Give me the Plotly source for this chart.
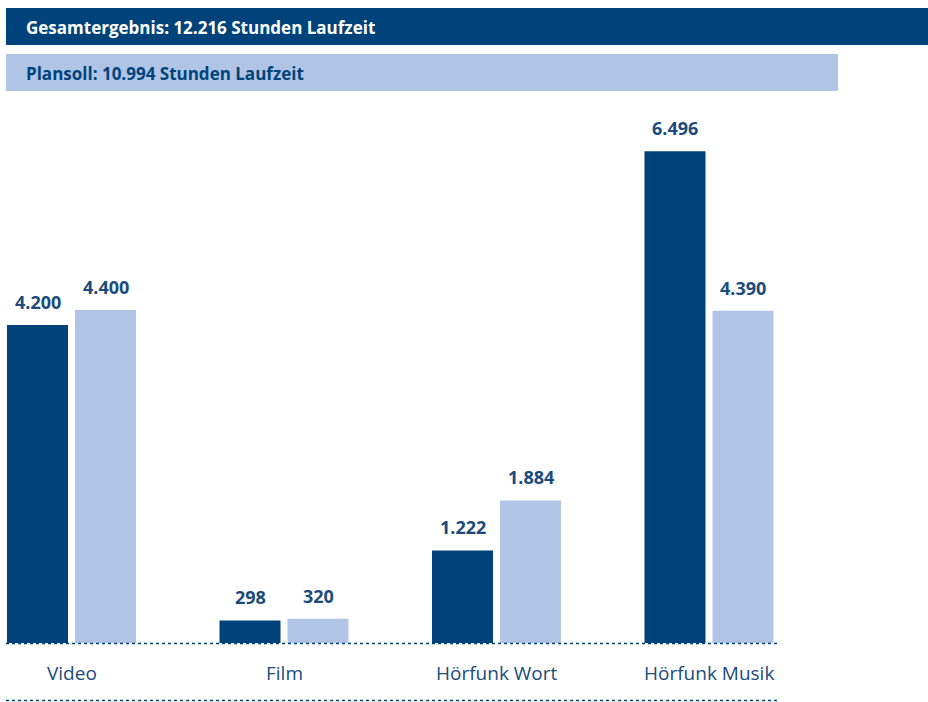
import plotly.graph_objects as go

categories = ["Video", "Film", "Hörfunk Wort", "Hörfunk Musik"]
ergebnis = [4200, 298, 1222, 6496]
plansoll = [4400, 320, 1884, 4390]
ergebnis_labels = ["4.200", "298", "1.222", "6.496"]
plansoll_labels = ["4.400", "320", "1.884", "4.390"]
header_total = "Gesamtergebnis: 12.216 Stunden Laufzeit"
header_plan = "Plansoll: 10.994 Stunden Laufzeit"

DARK = "#00437a"
LIGHT = "#b0c5e6"
TEXT = "#1b4b7c"
FONT = "Open Sans"

W, H = 928, 702
T, B = 100, 59
PH = H - T - B

def py(p):
    return (H - B - p) / PH

xs = list(range(len(categories)))
fig = go.Figure()
fig.add_bar(x=xs, y=ergebnis, marker_color=DARK, marker_line_width=0, name="Ergebnis")
fig.add_bar(x=xs, y=plansoll, marker_color=LIGHT, marker_line_width=0, name="Plansoll")

off = 68 / 2 / 212.5
ann = []
for i, c in enumerate(categories):
    ann.append(dict(x=i - off, y=ergebnis[i], text=ergebnis_labels[i], showarrow=False,
                    yanchor="bottom", yshift=9, font=dict(family=FONT, size=18, color=TEXT, weight="bold")))
    ann.append(dict(x=i + off, y=plansoll[i], text=plansoll_labels[i], showarrow=False,
                    yanchor="bottom", yshift=9, font=dict(family=FONT, size=18, color=TEXT, weight="bold")))
    ann.append(dict(x=i, y=0, text=c, showarrow=False, yanchor="middle", yshift=-30,
                    font=dict(family=FONT, size=19, color=TEXT)))

ann.append(dict(xref="paper", yref="paper", x=24 / W, y=py(27), text=header_total, showarrow=False,
                xanchor="left", yanchor="middle", font=dict(family=FONT, size=17, color="white", weight="bold")))
ann.append(dict(xref="paper", yref="paper", x=24 / W, y=py(73), text=header_plan, showarrow=False,
                xanchor="left", yanchor="middle", font=dict(family=FONT, size=17, color=DARK, weight="bold")))

shapes = [
    dict(type="rect", xref="paper", yref="paper", x0=6 / W, x1=1, y0=py(45), y1=py(8),
         fillcolor=DARK, line_width=0, layer="below"),
    dict(type="rect", xref="paper", yref="paper", x0=6 / W, x1=838 / W, y0=py(91), y1=py(54),
         fillcolor=LIGHT, line_width=0, layer="below"),
    dict(type="line", xref="paper", yref="paper", x0=6 / W, x1=777 / W, y0=py(643.5), y1=py(643.5),
         line=dict(color=DARK, width=1.5, dash="dot")),
    dict(type="line", xref="paper", yref="paper", x0=6 / W, x1=777 / W, y0=py(700.5), y1=py(700.5),
         line=dict(color=DARK, width=1.5, dash="dot")),
]

x0 = -71.5 / 212.5
fig.update_layout(
    width=W, height=H,
    margin=dict(l=0, r=0, t=T, b=B),
    paper_bgcolor="white", plot_bgcolor="white",
    barmode="group", bargap=0.36, bargroupgap=7 / 68,
    showlegend=False,
    xaxis=dict(range=[x0, x0 + W / 212.5], showticklabels=False, showgrid=False, zeroline=False,
               showline=False, ticks=""),
    yaxis=dict(range=[0, PH / 0.0757], showticklabels=False, showgrid=False, zeroline=False,
               showline=False, ticks=""),
    annotations=ann, shapes=shapes,
)
fig.write_html("out.html", config={"displayModeBar": False},
               post_script="document.body.style.margin='0';document.body.style.overflow='hidden';")
